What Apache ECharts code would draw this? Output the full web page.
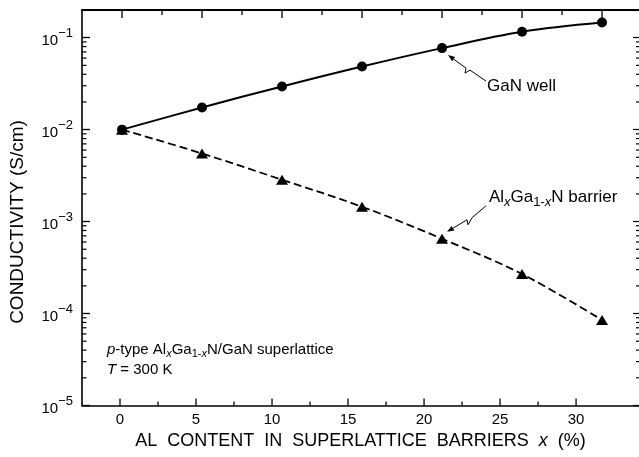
<!DOCTYPE html>
<html><head><meta charset="utf-8">
<script src="https://cdn.jsdelivr.net/npm/echarts@6/dist/echarts.min.js"></script>
<style>html,body{margin:0;padding:0;background:#fff}#c{width:639px;height:457px}</style>
</head><body><div id="c"></div>
<script>
// ---- data ----
const xValues = [0, 5, 10, 15, 20, 25, 30];
const ganWell = [0.0100, 0.0174, 0.0295, 0.0486, 0.0770, 0.1160, 0.1460];
const algaBarrier = [0.0100, 0.0055, 0.00285, 0.00145, 0.00065, 0.000269, 0.000085];
const xMajorTicks = [0, 5, 10, 15, 20, 25, 30];
const xMinorTicks = [2.5, 7.5, 12.5, 17.5, 22.5, 27.5];
const yDecades = [1e-5, 1e-4, 1e-3, 1e-2, 1e-1];
const yMin = 1e-5, yMax = 0.2;
const yMinorTicks = [];
yDecades.forEach(d => { for (let k = 2; k <= 9; k++) { const v = k * d; if (v < yMax * 0.999) yMinorTicks.push(v); } });

const FONT = "'Liberation Sans', Arial, Helvetica, sans-serif";
const K = '#000';
const chart = echarts.init(document.getElementById('c'), null, {renderer: 'canvas'});

function xTickSeries(axisIndex, side, values, len) {
  return {type: 'custom', xAxisIndex: axisIndex, yAxisIndex: 0, silent: true, clip: false, z: 5,
    data: values.map(v => [v, 0.01]),
    renderItem: (params, api) => {
      const cs = params.coordSys;
      const x = api.coord([api.value(0), 0.01])[0];
      const y0 = side === 'bottom' ? cs.y + cs.height : cs.y;
      const y1 = side === 'bottom' ? y0 - len : y0 + len;
      return {type: 'group', children: [
        {type: 'line', shape: {x1: x, y1: y0, x2: x, y2: y1}, style: {stroke: K, lineWidth: 1.3}}
      ]};
    }};
}

const option = {
  animation: false,
  grid: {left: 82, top: 10, right: 0, bottom: 51.5},
  xAxis: [
    {type: 'value', position: 'bottom', min: -2.5, max: 34.14,
     axisLine: {show: true, onZero: false, lineStyle: {color: K, width: 1.6}},
     axisTick: {show: false}, splitLine: {show: false},
     axisLabel: {show: true, customValues: xMajorTicks, margin: 7, color: K, fontSize: 15, fontFamily: FONT},
     name: 'AL  CONTENT  IN  SUPERLATTICE  BARRIERS  {i|x}  (%)',
     nameLocation: 'middle', nameGap: 23,
     nameTextStyle: {color: K, fontSize: 18, fontFamily: FONT,
       rich: {i: {fontStyle: 'italic', fontSize: 18, fontFamily: FONT, color: K}}}},
    {type: 'value', position: 'top', min: -2.5, max: 32.31,
     axisLine: {show: true, onZero: false, lineStyle: {color: K, width: 2}},
     axisTick: {show: false}, axisLabel: {show: false}, splitLine: {show: false}}
  ],
  yAxis: [
    {type: 'log', logBase: 10, position: 'left', min: yMin, max: yMax,
     axisLine: {show: true, onZero: false, lineStyle: {color: K, width: 1.6}},
     axisTick: {show: true, inside: true, length: 8, lineStyle: {color: K, width: 1.3}},
     splitLine: {show: false}, minorTick: {show: false},
     axisLabel: {show: true, margin: 9, showMaxLabel: false, color: K, fontFamily: FONT,
       formatter: v => {
         const e = Math.round(Math.log10(v));
         if (Math.abs(v / Math.pow(10, e) - 1) > 1e-6) return '';
         return '{b|10}{s|\u2212' + (-e) + '}';
       },
       rich: {
         b: {fontSize: 15, lineHeight: 22, verticalAlign: 'bottom', fontFamily: FONT, color: K},
         s: {fontSize: 13, lineHeight: 14, verticalAlign: 'top', fontFamily: FONT, color: K}
       }}
    },
    {type: 'log', logBase: 10, position: 'right', min: yMin, max: yMax,
     axisLine: {show: false, onZero: false},
     axisTick: {show: true, inside: true, length: 6, lineStyle: {color: K, width: 1.2}},
     splitLine: {show: false}, axisLabel: {show: false}}
  ],
  series: [
    {name: 'GaN well', type: 'line', xAxisIndex: 1, yAxisIndex: 0,
     data: xValues.map((x, i) => [x, ganWell[i]]),
     smooth: 0.35, symbol: 'circle', symbolSize: 10,
     itemStyle: {color: K}, lineStyle: {color: K, width: 2}, z: 4},
    {name: 'AlGaN barrier', type: 'line', xAxisIndex: 1, yAxisIndex: 0,
     data: xValues.map((x, i) => [x, algaBarrier[i]]),
     smooth: 0.35, symbol: 'triangle', symbolSize: [12, 10],
     itemStyle: {color: K}, lineStyle: {color: K, width: 1.8, type: [8, 4]}, z: 4},
    {type: 'custom', xAxisIndex: 1, yAxisIndex: 0, silent: true, clip: false, z: 5,
     data: yMinorTicks.map(v => [0, v]),
     renderItem: (params, api) => {
       const cs = params.coordSys;
       const y = api.coord([0, api.value(1)])[1];
       return {type: 'group', children: [
         {type: 'line', shape: {x1: cs.x, y1: y, x2: cs.x + 4.5, y2: y}, style: {stroke: K, lineWidth: 1.2}},
         {type: 'line', shape: {x1: cs.x + cs.width, y1: y, x2: cs.x + cs.width - 3, y2: y}, style: {stroke: K, lineWidth: 1.2}}
       ]};
     }},
    xTickSeries(0, 'bottom', xMajorTicks, 7),
    xTickSeries(0, 'bottom', xMinorTicks, 4),
    xTickSeries(1, 'top', xMajorTicks, 8),
    xTickSeries(1, 'top', xMinorTicks, 5)
  ]
};
chart.setOption(option);

function arrow(base, rel) {
  const abs = rel.map(p => [base[0] + p[0], base[1] + p[1]]);
  const t = abs[0], n = abs[1];
  const dx = t[0] - n[0], dy = t[1] - n[1], L = Math.hypot(dx, dy), ux = dx / L, uy = dy / L;
  const hl = 7, hw = 2.6;
  const bx = t[0] - ux * hl, by = t[1] - uy * hl;
  return [
    {type: 'polyline', shape: {points: [[bx, by]].concat(abs.slice(1))}, style: {stroke: K, lineWidth: 1, fill: 'none'}, silent: true},
    {type: 'polygon', shape: {points: [t, [bx - uy * hw, by + ux * hw], [bx + uy * hw, by - ux * hw]]}, style: {fill: K}, silent: true}
  ];
}
const pG = chart.convertToPixel({xAxisIndex: 1, yAxisIndex: 0}, [xValues[4], ganWell[4]]);
const pB = chart.convertToPixel({xAxisIndex: 1, yAxisIndex: 0}, [xValues[4], algaBarrier[4]]);

const subRich = (fs, lh, pad) => ({
  n: {fontSize: fs, lineHeight: lh, fontFamily: FONT, fill: K},
  i: {fontSize: fs, lineHeight: lh, fontStyle: 'italic', fontFamily: FONT, fill: K},
  s: {fontSize: fs - 4, lineHeight: fs - 4, padding: [pad, 0, 0, 0], fontFamily: FONT, fill: K},
  si: {fontSize: fs - 4, lineHeight: fs - 4, padding: [pad, 0, 0, 0], fontStyle: 'italic', fontFamily: FONT, fill: K}
});

chart.setOption({
  graphic: [].concat(
    arrow(pG, [[6, 7], [24, 20], [23, 25], [28, 22], [44, 33]]),
    arrow(pB, [[5, -7], [25, -19], [26, -14], [30, -21], [44, -33]]),
    [
      {type: 'text', x: 487, y: 76, silent: true,
       style: {text: 'GaN well', font: '17px ' + FONT, fill: K, align: 'left', verticalAlign: 'top', lineHeight: 20}},
      {type: 'text', x: 489, y: 187, silent: true,
       style: {text: '{n|Al}{si|x}{n|Ga}{s|1-}{si|x}{n|N barrier}', font: '17px ' + FONT, fill: K,
               align: 'left', verticalAlign: 'top', rich: subRich(17, 21, 9)}},
      {type: 'text', x: 107, y: 340, silent: true,
       style: {text: '{i|p}{n|-type Al}{si|x}{n|Ga}{s|1-}{si|x}{n|N/GaN superlattice}\n{i|T}{n| = 300 K}',
               font: '15px ' + FONT, fill: K, align: 'left', verticalAlign: 'top', rich: subRich(15, 20, 8)}},
      {type: 'text', x: 17.5, y: 222, rotation: Math.PI / 2, silent: true,
       style: {text: 'CONDUCTIVITY (S/cm)', font: '19px ' + FONT, fill: K, align: 'center', verticalAlign: 'middle'}}
    ]
  )
});
</script></body></html>
